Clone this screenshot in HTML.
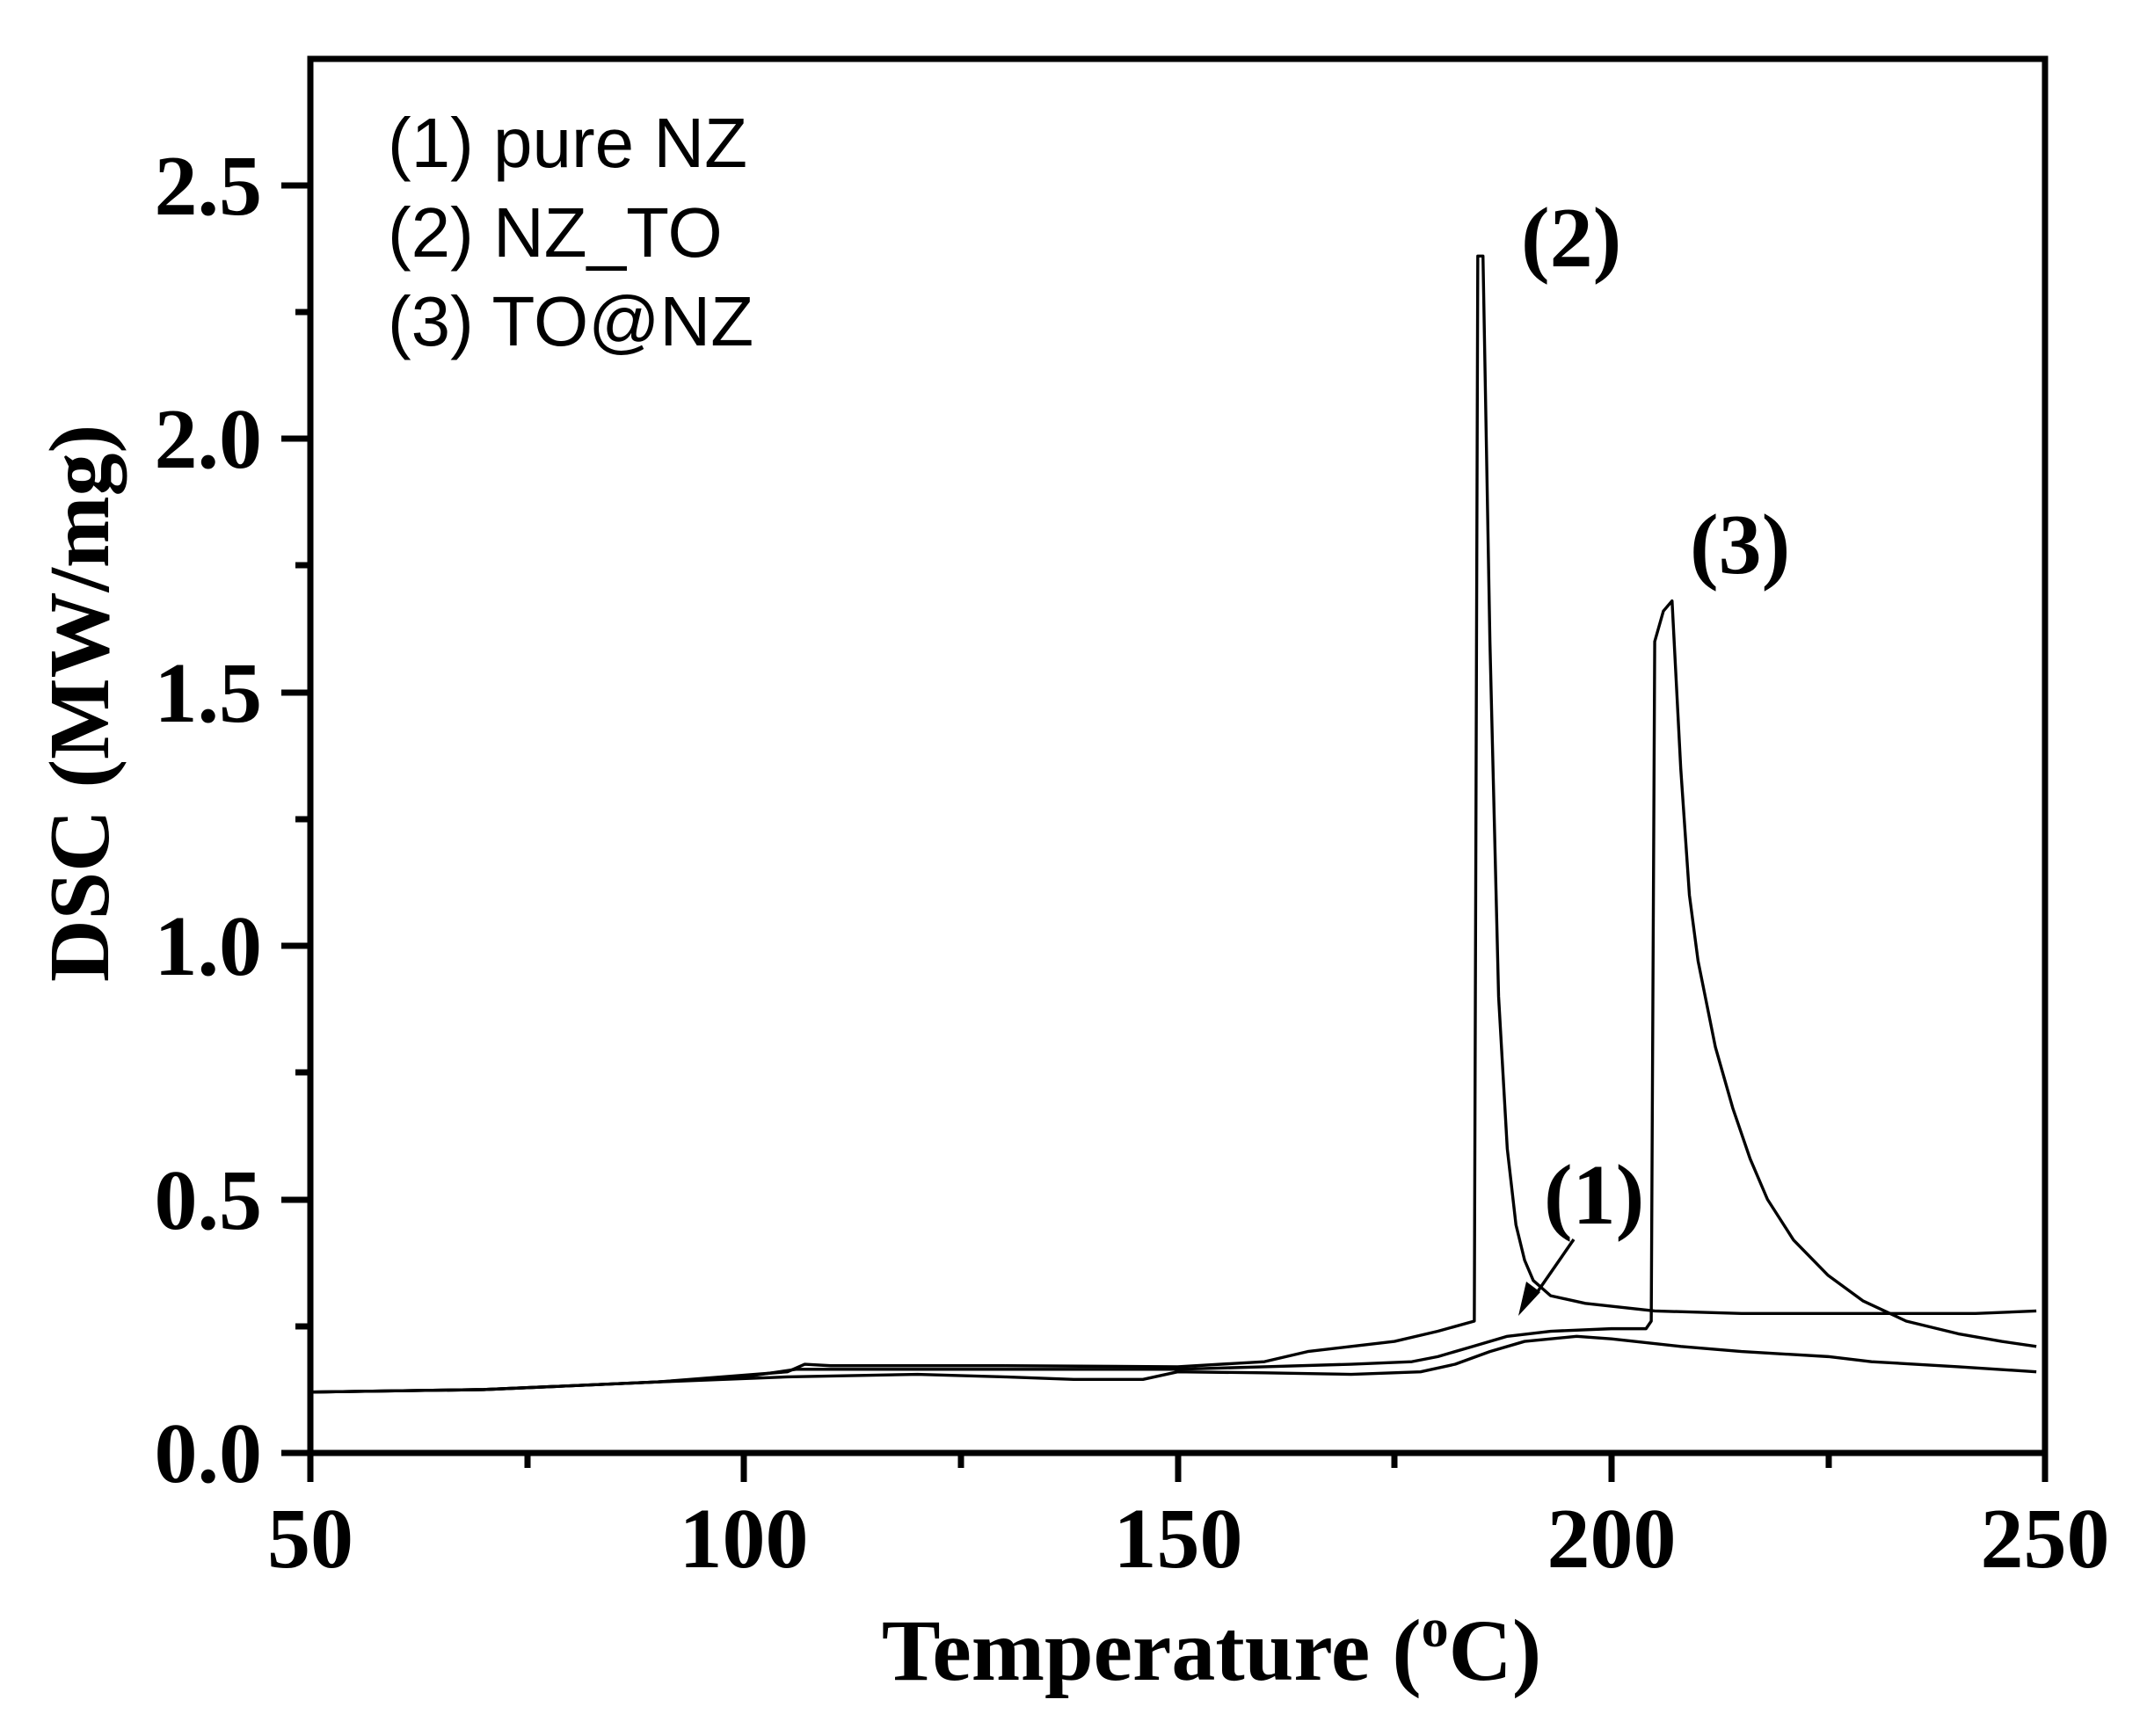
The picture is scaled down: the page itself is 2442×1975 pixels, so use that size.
<!DOCTYPE html>
<html><head><meta charset="utf-8"><style>
html,body{margin:0;padding:0;background:#fff}
svg{display:block}
.t{font-family:"Liberation Serif",serif;font-weight:bold;fill:#000}
.a{font-family:"Liberation Sans",sans-serif;fill:#000}
.c{fill:none;stroke:#000;stroke-width:3.4;vector-effect:non-scaling-stroke;stroke-linejoin:round}
</style></head><body>
<svg width="2442" height="1975" viewBox="0 0 2442 1975" xmlns="http://www.w3.org/2000/svg">
<rect width="2442" height="1975" fill="#fff"/>
<g transform="translate(353,1653) scale(9.865,-577)">
<path class="c" d="M0,0.12 L20,0.125 L40,0.14 L55,0.16 L57,0.175 L60,0.172 L80,0.172 L100,0.17 L110,0.18 L115,0.2 L120,0.21 L125,0.22 L130,0.24 L134.2,0.26 L134.6,2.36 L135.2,2.36 L136,1.6 L137,0.9 L138,0.6 L139,0.45 L140,0.38 L141,0.34 L143,0.31 L147,0.295 L155,0.28 L165,0.275 L180,0.275 L192,0.275 L199,0.28"/>
<path class="c" d="M0,0.12 L20,0.125 L40,0.14 L50,0.15 L56,0.165 L60,0.165 L90,0.165 L100,0.165 L110,0.17 L120,0.175 L127,0.18 L130,0.19 L134,0.21 L138,0.23 L143,0.24 L150,0.245 L154,0.245 L154.6,0.26 L155,1.6 L156,1.66 L157,1.68 L158,1.35 L159,1.1 L160,0.97 L162,0.8 L164,0.68 L166,0.58 L168,0.5 L171,0.42 L175,0.35 L179,0.3 L184,0.26 L190,0.235 L195,0.22 L199,0.21"/>
<path class="c" d="M0,0.12 L20,0.125 L40,0.14 L55,0.15 L70,0.155 L80,0.15 L88,0.145 L96,0.145 L100,0.16 L110,0.158 L120,0.155 L128,0.16 L132,0.175 L136,0.2 L140,0.22 L146,0.23 L150,0.225 L158,0.21 L165,0.2 L175,0.19 L180,0.18 L190,0.17 L199,0.16"/>
</g>
<rect x="353" y="67" width="1973" height="1586" fill="none" stroke="#000" stroke-width="7"/>
<g stroke="#000" stroke-width="7">
<line x1="353" y1="1653" x2="353" y2="1686"/>
<line x1="846" y1="1653" x2="846" y2="1686"/>
<line x1="1340" y1="1653" x2="1340" y2="1686"/>
<line x1="1833" y1="1653" x2="1833" y2="1686"/>
<line x1="2326" y1="1653" x2="2326" y2="1686"/>
<line x1="600" y1="1653" x2="600" y2="1670"/>
<line x1="1093" y1="1653" x2="1093" y2="1670"/>
<line x1="1586" y1="1653" x2="1586" y2="1670"/>
<line x1="2080" y1="1653" x2="2080" y2="1670"/>
<line x1="320" y1="1653" x2="353" y2="1653"/>
<line x1="320" y1="1365" x2="353" y2="1365"/>
<line x1="320" y1="1076" x2="353" y2="1076"/>
<line x1="320" y1="788" x2="353" y2="788"/>
<line x1="320" y1="499" x2="353" y2="499"/>
<line x1="320" y1="211" x2="353" y2="211"/>
<line x1="336" y1="1509" x2="353" y2="1509"/>
<line x1="336" y1="1220" x2="353" y2="1220"/>
<line x1="336" y1="932" x2="353" y2="932"/>
<line x1="336" y1="643" x2="353" y2="643"/>
<line x1="336" y1="355" x2="353" y2="355"/>
</g>
<g class="t" font-size="98" text-anchor="end">
<text x="298" y="1686">0.0</text>
<text x="298" y="1398">0.5</text>
<text x="298" y="1109">1.0</text>
<text x="298" y="821">1.5</text>
<text x="298" y="532">2.0</text>
<text x="298" y="244">2.5</text>
</g>
<g class="t" font-size="98" text-anchor="middle">
<text x="353" y="1783">50</text>
<text x="846" y="1783">100</text>
<text x="1340" y="1783">150</text>
<text x="1833" y="1783">200</text>
<text x="2326" y="1783">250</text>
</g>
<text class="t" font-size="100" x="1378" y="1911" text-anchor="middle">Temperature (<tspan font-size="62" dy="-38">o</tspan><tspan dy="38">C)</tspan></text>
<text class="t" font-size="98" transform="translate(123,800) rotate(-90)" text-anchor="middle">DSC (MW/mg)</text>
<g class="a" font-size="80">
<text x="441" y="190">(1) pure NZ</text>
<text x="441" y="292">(2) NZ_TO</text>
<text x="441" y="393">(3) TO@NZ</text>
</g>
<g class="t" font-size="98">
<text x="1730" y="303">(2)</text>
<text x="1922" y="652">(3)</text>
<text x="1756" y="1392">(1)</text>
</g>
<line x1="1790" y1="1410" x2="1745" y2="1475" stroke="#000" stroke-width="3.5"/>
<polygon points="1727,1497 1736,1458 1752,1470" fill="#000"/>
</svg>
</body></html>
